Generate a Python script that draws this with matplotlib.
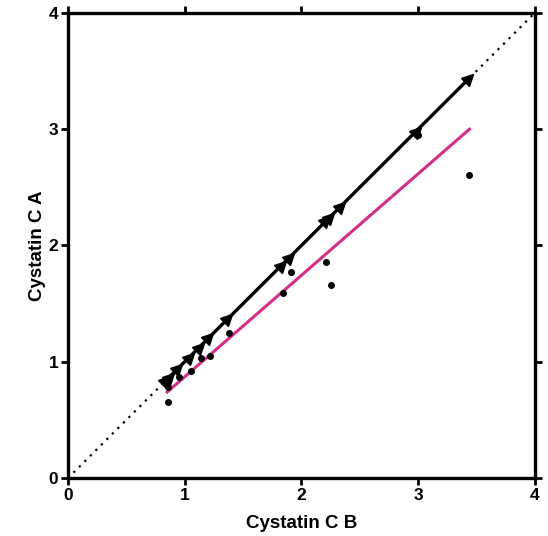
import matplotlib
matplotlib.use('Agg')
import matplotlib.pyplot as plt
from matplotlib.markers import MarkerStyle
from matplotlib.transforms import Affine2D

plt.rcParams['font.family'] = ['Liberation Sans', 'DejaVu Sans']

# triangles on the line of identity (B vs B)
tri_x = [0.84, 0.87, 0.945, 1.045, 1.13, 1.21, 1.373, 1.83, 1.90, 2.215, 2.244, 2.336, 2.987, 3.437]
tri_y = tri_x

# A vs B dots
dot_x = [0.854, 0.86, 0.953, 1.054, 1.136, 1.216, 1.379, 1.844, 1.91, 2.21, 2.253, 2.995, 3.437]
dot_y = [0.656, 0.785, 0.871, 0.923, 1.035, 1.049, 1.245, 1.589, 1.775, 1.858, 1.657, 2.95, 2.604]

# regression line A vs B
fit_x = [0.85, 3.44]
fit_y = [0.74, 3.0]

ticks = [0, 1, 2, 3, 4]

fig = plt.figure(figsize=(5.48, 5.36), dpi=100)
ax = fig.add_axes([0.124, 0.108, 0.852, 0.868])

ax.plot([0, 4], [0, 4], color='black', linestyle=(0, (1, 2.5)), lw=1.6, zorder=1)
ax.plot([tri_x[0], tri_x[-1]], [tri_y[0], tri_y[-1]], color='black', lw=2.4, zorder=3)
mk = MarkerStyle('>', transform=Affine2D().rotate_deg(42))
ax.plot(tri_x, tri_y, linestyle='none', marker=mk, color='black', markersize=8, zorder=4)
ax.plot(fit_x, fit_y, color='#d42e8a', lw=2.2, zorder=2)
ax.plot(dot_x, dot_y, linestyle='none', marker='o', color='black', markersize=4, zorder=5)

ax.set_xlim(0, 4)
ax.set_ylim(0, 4)
ax.set_xticks(ticks)
ax.set_yticks(ticks)
for s in ax.spines.values():
    s.set_linewidth(2.4)
ax.tick_params(direction='out', length=5, width=2, labelsize=12.5,
               top=True, right=True, labeltop=False, labelright=False, pad=2)
for lab in ax.get_xticklabels() + ax.get_yticklabels():
    lab.set_fontweight('bold')
ax.set_xlabel('Cystatin C B', fontsize=13.5, fontweight='bold', labelpad=9)
ax.set_ylabel('Cystatin C A', fontsize=13.5, fontweight='bold', labelpad=2)

fig.savefig('out.png', dpi=100)
